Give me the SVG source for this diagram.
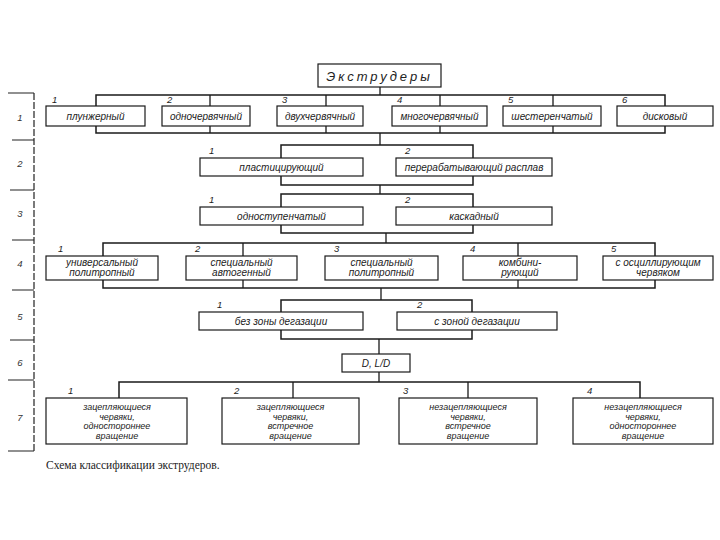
<svg xmlns="http://www.w3.org/2000/svg" width="720" height="540" viewBox="0 0 720 540">
<style>
.bus{fill:none;stroke:#1a1a1a;stroke-width:1.5}
.ln{stroke:#1a1a1a;stroke-width:1.3;fill:none}
.box{fill:#fff;stroke:#1a1a1a;stroke-width:1.2}
.t{font-family:"Liberation Sans",Arial,sans-serif;font-style:italic;font-size:10px;fill:#222;text-anchor:middle}
.s{font-size:9px}
.n{font-family:"Liberation Sans",Arial,sans-serif;font-style:italic;font-size:9.5px;fill:#222}
.r{font-family:"Liberation Sans",Arial,sans-serif;font-style:italic;font-size:9.5px;fill:#333;text-anchor:middle}
.axis{stroke:#222;stroke-width:1.2;fill:none}
</style>
<rect width="720" height="540" fill="#fff"/>

<g id="axis">
<line class="axis" x1="34" y1="93" x2="34" y2="451" stroke-dasharray="7 2"/>
<path class="axis" d="M8 93H34M12 140H34M10 190H34M12 240H34M12 290H34M10 340H34M8 380H34M8 451H34"/>
<text class="r" x="20" y="121">1</text>
<text class="r" x="20" y="167">2</text>
<text class="r" x="20" y="217">3</text>
<text class="r" x="20" y="267">4</text>
<text class="r" x="20" y="320">5</text>
<text class="r" x="20" y="366">6</text>
<text class="r" x="20" y="421">7</text>
</g>

<g id="connectors">
<line class="ln" x1="380" y1="87" x2="380" y2="95"/>
<rect class="bus" x="96" y="95" width="569" height="38"/>
<path class="ln" d="M210 95V133M326 95V133M440 95V133M553 95V133"/>
<line class="ln" x1="380" y1="133" x2="380" y2="145"/>
<rect class="bus" x="281" y="145" width="192" height="40"/>
<line class="ln" x1="380" y1="185" x2="380" y2="194"/>
<rect class="bus" x="281" y="194" width="192" height="39"/>
<line class="ln" x1="386" y1="233" x2="386" y2="243"/>
<rect class="bus" x="103" y="243" width="552" height="45"/>
<path class="ln" d="M243 243V288M518 243V288"/>
<line class="ln" x1="381" y1="288" x2="381" y2="300"/>
<rect class="bus" x="281" y="300" width="191" height="39"/>
<line class="ln" x1="379" y1="339" x2="379" y2="354"/>
<line class="ln" x1="379" y1="372" x2="379" y2="382"/>
<path class="bus" d="M119 398V382H640V398"/>
<path class="ln" d="M293 382V398M468 382V398"/>
</g>

<g id="root">
<rect class="box" x="318" y="64" width="123" height="23"/>
<text x="379.5" y="81" font-family="Liberation Sans,Arial,sans-serif" font-style="italic" font-size="13" letter-spacing="3" text-anchor="middle" fill="#222">Экструдеры</text>
</g>

<g id="l1-1"><rect class="box" x="46" y="106" width="99" height="20"/><text class="n" x="52" y="103">1</text><text class="t" x="95.5" y="119.5">плунжерный</text></g>
<g id="l1-2"><rect class="box" x="162" y="106" width="88" height="20"/><text class="n" x="167" y="103">2</text><text class="t" x="206" y="119.5">одночервячный</text></g>
<g id="l1-3"><rect class="box" x="277" y="106" width="86" height="20"/><text class="n" x="282" y="103">3</text><text class="t" x="320" y="119.5">двухчервячный</text></g>
<g id="l1-4"><rect class="box" x="392" y="106" width="95" height="20"/><text class="n" x="397" y="103">4</text><text class="t" x="439.5" y="119.5">многочервячный</text></g>
<g id="l1-5"><rect class="box" x="503" y="106" width="98" height="20"/><text class="n" x="508" y="103">5</text><text class="t" x="552" y="119.5">шестеренчатый</text></g>
<g id="l1-6"><rect class="box" x="617" y="106" width="96" height="20"/><text class="n" x="622" y="103">6</text><text class="t" x="665" y="119.5">дисковый</text></g>

<g id="l2-1"><rect class="box" x="200" y="158" width="163" height="18"/><text class="n" x="209" y="154">1</text><text class="t" x="281.5" y="170.5">пластицирующий</text></g>
<g id="l2-2"><rect class="box" x="396" y="158" width="156" height="18"/><text class="n" x="405" y="154">2</text><text class="t" x="474" y="170.5">перерабатывающий  расплав</text></g>

<g id="l3-1"><rect class="box" x="200" y="207" width="163" height="18"/><text class="n" x="209" y="203">1</text><text class="t" x="281.5" y="219.5">одноступенчатый</text></g>
<g id="l3-2"><rect class="box" x="396" y="207" width="156" height="18"/><text class="n" x="405" y="203">2</text><text class="t" x="474" y="219.5">каскадный</text></g>

<g id="l4-1"><rect class="box" x="46" y="256" width="112" height="24"/><text class="n" x="58" y="252">1</text><text class="t" x="102" y="266">универсальный</text><text class="t" x="102" y="276">политропный</text></g>
<g id="l4-2"><rect class="box" x="186" y="256" width="111" height="24"/><text class="n" x="195" y="252">2</text><text class="t" x="241.5" y="266">специальный</text><text class="t" x="241.5" y="276">автогенный</text></g>
<g id="l4-3"><rect class="box" x="325" y="256" width="113" height="24"/><text class="n" x="334" y="252">3</text><text class="t" x="381.5" y="266">специальный</text><text class="t" x="381.5" y="276">политропный</text></g>
<g id="l4-4"><rect class="box" x="463" y="256" width="114" height="24"/><text class="n" x="470" y="252">4</text><text class="t" x="520" y="266">комбини-</text><text class="t" x="520" y="276">рующий</text></g>
<g id="l4-5"><rect class="box" x="603" y="256" width="110" height="24"/><text class="n" x="611" y="252">5</text><text class="t" x="658" y="266">с осциллирующим</text><text class="t" x="658" y="276">червяком</text></g>

<g id="l5-1"><rect class="box" x="199" y="312" width="164" height="18"/><text class="n" x="217" y="308">1</text><text class="t" x="281" y="324.5">без зоны  дегазации</text></g>
<g id="l5-2"><rect class="box" x="397" y="312" width="160" height="18"/><text class="n" x="417" y="308">2</text><text class="t" x="477" y="324.5">с зоной  дегазации</text></g>

<g id="l6"><rect class="box" x="342" y="354" width="68" height="18"/><text class="t" x="376" y="367" font-size="10.5">D,  L/D</text></g>

<g id="l7-1"><rect class="box" x="46" y="398" width="141" height="46"/><text class="n" x="68" y="394">1</text><text class="t s" x="117" y="410">зацепляющиеся</text><text class="t s" x="117" y="419.5">червяки,</text><text class="t s" x="117" y="429">одностороннее</text><text class="t s" x="117" y="438.5">вращение</text></g>
<g id="l7-2"><rect class="box" x="222" y="398" width="137" height="46"/><text class="n" x="234" y="394">2</text><text class="t s" x="290.5" y="410">зацепляющиеся</text><text class="t s" x="290.5" y="419.5">червяки,</text><text class="t s" x="290.5" y="429">встречное</text><text class="t s" x="290.5" y="438.5">вращение</text></g>
<g id="l7-3"><rect class="box" x="399" y="398" width="138" height="46"/><text class="n" x="403" y="394">3</text><text class="t s" x="468" y="410">незацепляющиеся</text><text class="t s" x="468" y="419.5">червяки,</text><text class="t s" x="468" y="429">встречное</text><text class="t s" x="468" y="438.5">вращение</text></g>
<g id="l7-4"><rect class="box" x="573" y="398" width="140" height="46"/><text class="n" x="587" y="394">4</text><text class="t s" x="643" y="410">незацепляющиеся</text><text class="t s" x="643" y="419.5">червяки,</text><text class="t s" x="643" y="429">одностороннее</text><text class="t s" x="643" y="438.5">вращение</text></g>

<text x="46" y="469" font-family="Liberation Serif,'Times New Roman',serif" font-size="11.5" fill="#222">Схема классификации экструдеров.</text>
</svg>
